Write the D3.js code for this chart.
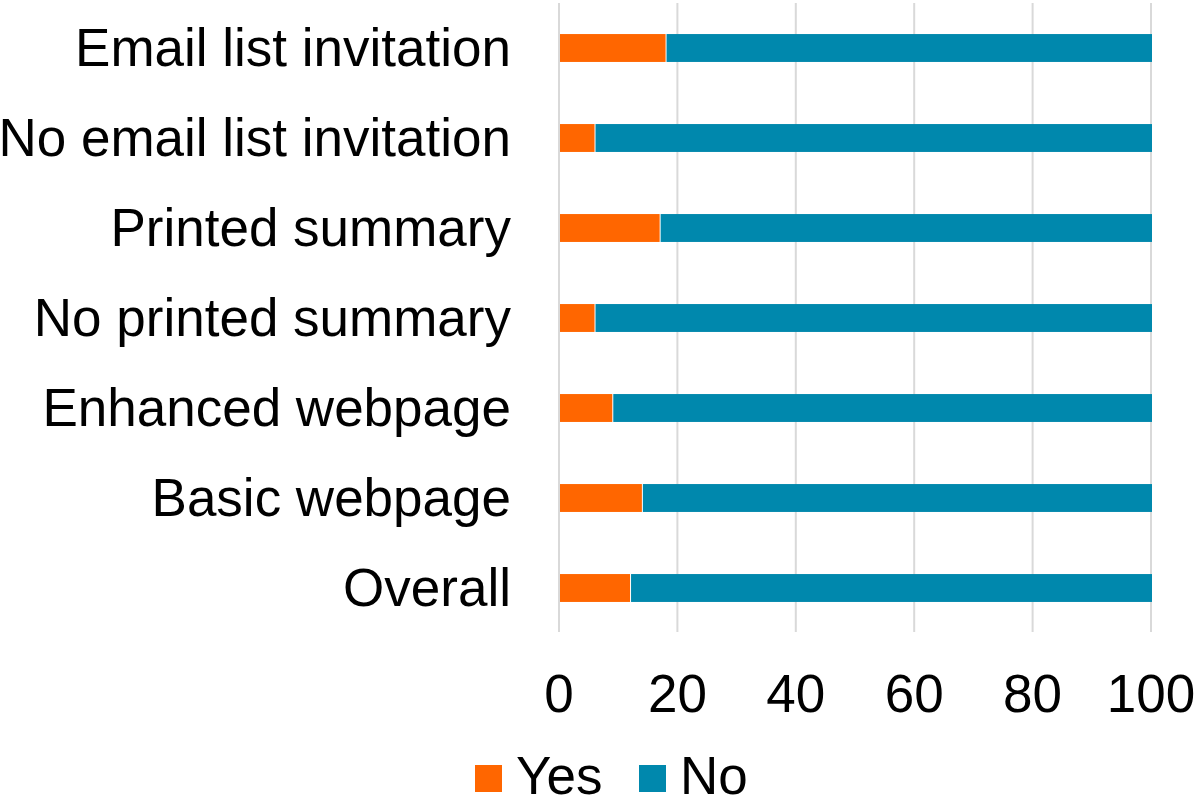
<!DOCTYPE html>
<html>
<head>
<meta charset="utf-8">
<script src="https://cdn.jsdelivr.net/npm/d3@7"></script>
<style>
  html, body { margin: 0; padding: 0; background: #ffffff; }
  svg { display: block; }
  text { font-family: "Liberation Sans", Arial, sans-serif; fill: #000000; }
</style>
</head>
<body>
<svg id="chart" width="1196" height="799"></svg>
<script>
// Survey responses by outreach condition (percent)
const categories = [
  "Email list invitation",
  "No email list invitation",
  "Printed summary",
  "No printed summary",
  "Enhanced webpage",
  "Basic webpage",
  "Overall"
];
const yesValues = [18, 6, 17, 6, 9, 14, 12];
const noValues  = [82, 94, 83, 94, 91, 86, 88];
const seriesNames = ["Yes", "No"];
const seriesColors = ["#ff6600", "#0088ad"];
const tickValues = [0, 20, 40, 60, 80, 100];

const svg = d3.select("#chart");
const fontSize = 53;

const x = d3.scaleLinear().domain([0, 100]).range([559, 1151]);
const y = d3.scaleBand().domain(categories).range([3, 633])
  .paddingInner(0.69).paddingOuter(0.345);

// Vertical gridlines
svg.append("g")
  .selectAll("line")
  .data(tickValues)
  .join("line")
  .attr("x1", d => x(d)).attr("x2", d => x(d))
  .attr("y1", 3).attr("y2", 632)
  .attr("stroke", "#d9d9d9")
  .attr("stroke-width", 2);

// Stacked bars
const rows = categories.map((c, i) => ({ cat: c, yes: yesValues[i], no: noValues[i] }));
const stack = d3.stack().keys(["yes", "no"])(rows);

svg.append("g")
  .selectAll("g")
  .data(stack)
  .join("g")
  .attr("fill", (d, i) => seriesColors[i])
  .selectAll("rect")
  .data(d => d)
  .join("rect")
  .attr("x", d => x(d[0]) + 1)
  .attr("width", d => Math.max(0, x(d[1]) - x(d[0]) - (d[0] === 0 ? 1 : 0)))
  .attr("y", d => y(d.data.cat))
  .attr("height", y.bandwidth());

// Category labels
svg.append("g")
  .selectAll("text")
  .data(categories)
  .join("text")
  .attr("x", 511)
  .attr("y", d => y(d) + y.bandwidth() / 2)
  .attr("dy", "0.34em")
  .attr("text-anchor", "end")
  .attr("font-size", fontSize)
  .text(d => d);

// X-axis tick labels
svg.append("g")
  .selectAll("text")
  .data(tickValues)
  .join("text")
  .attr("x", d => x(d))
  .attr("y", 712)
  .attr("text-anchor", "middle")
  .attr("font-size", fontSize)
  .text(d => d);

// Legend
const legendPos = [475, 639];
const legend = svg.append("g")
  .selectAll("g")
  .data(seriesNames)
  .join("g")
  .attr("transform", (d, i) => `translate(${legendPos[i]},0)`);
legend.append("rect")
  .attr("x", 0).attr("y", 765)
  .attr("width", 27).attr("height", 27)
  .attr("fill", (d, i) => seriesColors[i]);
legend.append("text")
  .attr("x", 41).attr("y", 794)
  .attr("font-size", fontSize)
  .text(d => d);
</script>
</body>
</html>
